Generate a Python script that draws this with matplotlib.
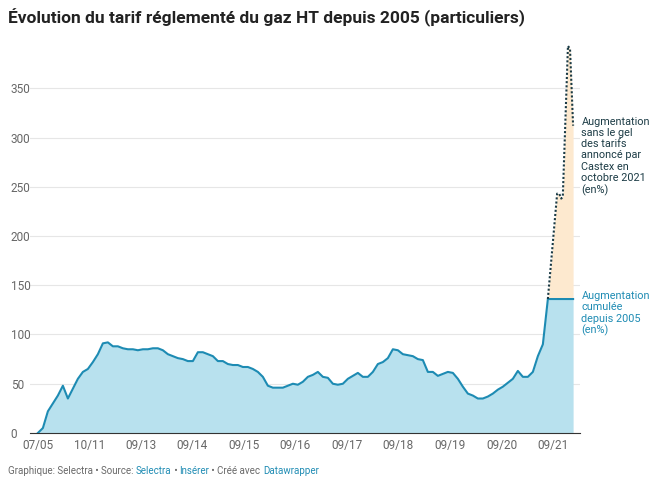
import matplotlib
matplotlib.use("Agg")
import matplotlib.pyplot as plt
import numpy as np

title = "Évolution du tarif réglementé du gaz HT depuis 2005 (particuliers)"
tick_labels = ["07/05","10/11","09/13","09/14","09/15","09/16","09/17","09/18","09/19","09/20","09/21"]
yticks = [0, 50, 100, 150, 200, 250, 300, 350]

# cumulative increase (%), sampled roughly every 0.1 tick interval
cumul = [0,5,22,30,38,48,35,45,55,62,65,72,80,91,92,88,88,86,85,85,84,85,85,86,86,84,80,78,76,75,
         73,73,82,82,80,78,73,73,70,69,69,67,67,65,62,57,48,46,46,46,48,50,49,52,57,59,62,57,56,50,
         49,50,55,58,61,57,57,62,70,72,76,85,84,80,79,78,75,74,62,62,58,60,62,61,55,47,40,38,35,35,
         37,40,44,47,51,55,63,57,57,62,78,90,136,136,136,136,136,136]
# hypothetical increase without tariff freeze (%)
sans_gel_x = [9.90, 10.08, 10.12, 10.16, 10.19, 10.29, 10.33, 10.39]
sans_gel = [136, 243, 243, 238, 240, 393, 390, 312]

n_main = len(cumul) - 6
x = np.concatenate([np.arange(n_main) * (9.9 / n_main), np.linspace(9.9, 10.39, 6)])

fig = plt.figure(figsize=(6.5, 4.84), dpi=100)
ax = fig.add_axes([0.046, 0.1054, 0.846, 0.814])
blue = "#1d8bb3"
ax.fill_between(x, 0, cumul, color="#b8e1ee", lw=0, zorder=1)
ax.plot(x, cumul, color=blue, lw=1.5, zorder=3)
ax.fill_between(sans_gel_x, 136, sans_gel, color="#fde9cf", lw=0, zorder=1)
ax.plot(sans_gel_x, sans_gel, color="#1a3a44", lw=1.5, ls=(0, (1, 1)), zorder=3)

ax.set_xlim(-0.155, 10.52)
ax.set_ylim(0, 400)
ax.set_yticks(yticks)
ax.set_yticklabels([str(v) for v in yticks], color="#666666", fontsize=8.5, family="Roboto")
ax.tick_params(axis="y", length=0, pad=-2)
for lab in ax.get_yticklabels():
    lab.set_horizontalalignment("left")
    lab.set_x(-0.04)
ax.set_xticks(range(len(tick_labels)))
ax.set_xticklabels(tick_labels, color="#666666", fontsize=8.5, family="Roboto")
ax.tick_params(axis="x", length=0, pad=4)
ax.grid(axis="y", color="#e6e6e6", lw=0.8, zorder=0)
for s in ["top", "right", "left"]:
    ax.spines[s].set_visible(False)
ax.spines["bottom"].set_color("#333333")
ax.set_axisbelow(True)

ax.text(10.55, 321, "Augmentation\nsans le gel\ndes tarifs\nannoncé par\nCastex en\noctobre 2021\n(en%)",
        color="#1a3a44", fontsize=7.8, family="Roboto", va="top", linespacing=1.15)
ax.text(10.55, 144, "Augmentation\ncumulée\ndepuis 2005\n(en%)",
        color=blue, fontsize=7.8, family="Roboto", va="top", linespacing=1.15)

fig.text(0.012, 0.963, title, fontsize=12.5, fontweight="bold", family="Roboto", color="#222222", va="center")

# footer with mixed colours, chained
parts = [("Graphique: Selectra • Source: ", "#666666"), ("Selectra", blue), (" • ", "#666666"),
         ("Insérer", blue), (" • Créé avec ", "#666666"), ("Datawrapper", blue)]
fig.canvas.draw()
r = fig.canvas.get_renderer()
xpos = 8
for txt, col in parts:
    t = fig.text(xpos / 650, 0.027, txt, fontsize=7, family="Roboto", color=col, va="center")
    xpos += t.get_window_extent(renderer=r).width

fig.savefig("out.png", dpi=100)
